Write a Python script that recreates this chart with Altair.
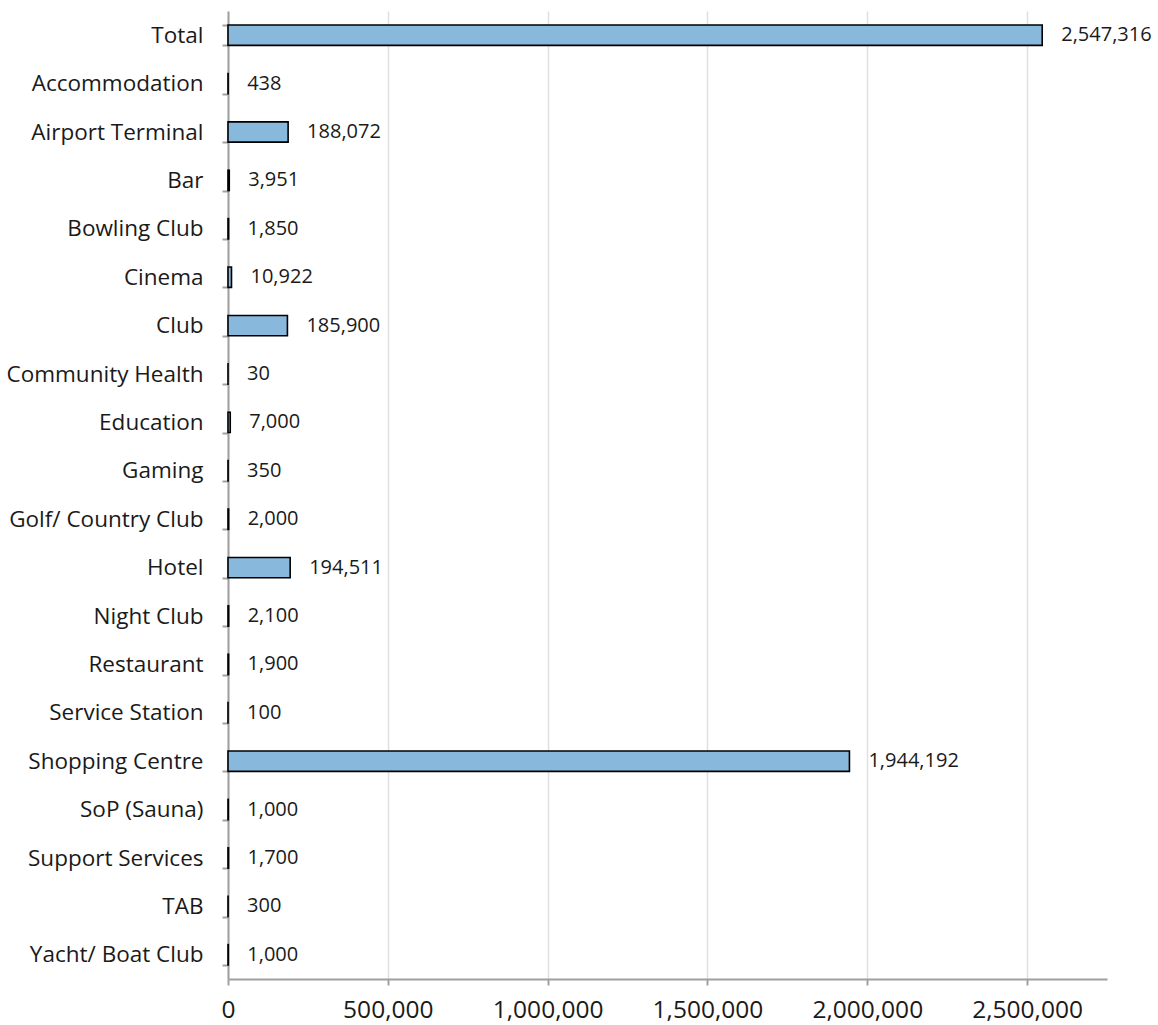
import altair as alt
import pandas as pd

categories = ["Total", "Accommodation", "Airport Terminal", "Bar", "Bowling Club",
              "Cinema", "Club", "Community Health", "Education", "Gaming",
              "Golf/ Country Club", "Hotel", "Night Club", "Restaurant",
              "Service Station", "Shopping Centre", "SoP (Sauna)", "Support Services",
              "TAB", "Yacht/ Boat Club"]
values = [2547316, 438, 188072, 3951, 1850, 10922, 185900, 30, 7000, 350,
          2000, 194511, 2100, 1900, 100, 1944192, 1000, 1700, 300, 1000]
x_ticks = [0, 500000, 1000000, 1500000, 2000000, 2500000]

df = pd.DataFrame({"category": categories, "value": values})

FONT = "Open Sans"

y = alt.Y("category:N", sort=categories, title=None,
          scale=alt.Scale(paddingInner=0.58, paddingOuter=0.29),
          axis=alt.Axis(tickBand="extent", tickSize=6, tickColor="#a0a0a0",
                        domainColor="#a0a0a0", domainWidth=2, tickWidth=2,
                        labelFontSize=22.5, labelFont=FONT, labelColor="#1a1a1a",
                        labelPadding=19, labelLimit=0, grid=False))
x = alt.X("value:Q", title=None,
          scale=alt.Scale(domain=[0, 2750000], nice=False),
          axis=alt.Axis(values=x_ticks,
                        format=",d", labelFontSize=24.5, labelFont=FONT,
                        labelColor="#1a1a1a", tickSize=6, tickColor="#a0a0a0",
                        tickWidth=2, domainColor="#a0a0a0", domainWidth=2,
                        gridColor="#e0e0e0", gridWidth=1.5, labelPadding=13,
                        labelFlush=False))

bars = alt.Chart(df).mark_bar(color="#88b8dc", stroke="#000000", strokeWidth=1.6).encode(
    x=x, y=y)

labels = alt.Chart(df).mark_text(align="left", baseline="middle", dx=19,
                                 fontSize=20, font=FONT, color="#1a1a1a").encode(
    x=alt.X("value:Q"), y=alt.Y("category:N", sort=categories),
    text=alt.Text("value:Q", format=",d"))

chart = alt.layer(bars, labels).properties(
    width=879, height=968,
    autosize=alt.AutoSizeParams(type="none"),
    padding={"left": 228, "top": 11, "right": 51, "bottom": 46},
    background="white",
).configure_view(stroke=None)

chart.save("out.html", embed_options={"renderer": "svg", "actions": False})
